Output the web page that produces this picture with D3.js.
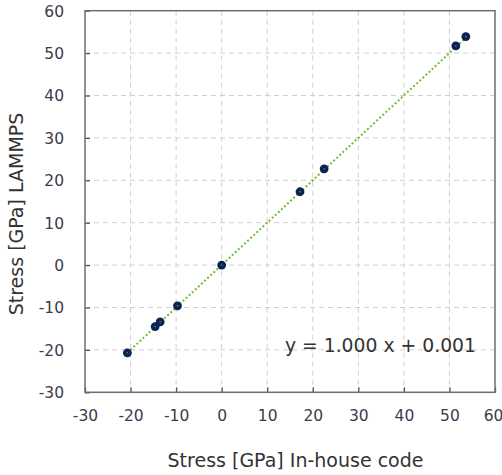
<!DOCTYPE html>
<html><head><meta charset="utf-8">
<script src="https://cdn.jsdelivr.net/npm/d3@7"></script>
<style>body{margin:0;background:#fff;} svg{display:block;}</style>
</head><body>
<svg id="c" width="502" height="475"></svg>
<script>
const inhouse = [-20.7, -14.6, -13.5, -9.7, 0.0, 17.2, 22.5, 51.4, 53.6];
const lammps  = [-20.7, -14.5, -13.4, -9.6, 0.0, 17.3, 22.7, 51.7, 53.9];
const xTicks = [-30, -20, -10, 0, 10, 20, 30, 40, 50, 60];
const yTicks = [-30, -20, -10, 0, 10, 20, 30, 40, 50, 60];
const slope = 1.000, intercept = 0.001;
const eqLabel = "y = 1.000 x + 0.001";
const xTitle = "Stress [GPa] In-house code";
const yTitle = "Stress [GPa] LAMMPS";

const svg = d3.select("#c");
const m = {l:85, t:10.7, r:495, b:392.3};
const x = d3.scaleLinear().domain([-30,60]).range([m.l, m.r]);
const y = d3.scaleLinear().domain([-30,60]).range([m.b, m.t]);
const font = "'DejaVu Sans', Verdana, sans-serif";
const fmt = d => String(d);

// grid
const g = svg.append("g");
g.selectAll(".gx").data(xTicks.slice(1,-1)).join("line")
  .attr("x1", d=>x(d)).attr("x2", d=>x(d)).attr("y1", m.t).attr("y2", m.b)
  .attr("stroke", "#cfcfcf").attr("stroke-width", 1).attr("stroke-dasharray", "5,4");
g.selectAll(".gy").data(yTicks.slice(1,-1)).join("line")
  .attr("y1", d=>y(d)).attr("y2", d=>y(d)).attr("x1", m.l).attr("x2", m.r)
  .attr("stroke", "#cfcfcf").attr("stroke-width", 1).attr("stroke-dasharray", "5,4");

// axes with inward ticks
const xa = svg.append("g").attr("transform", `translate(0,${m.b})`)
  .call(d3.axisBottom(x).tickValues(xTicks).tickSize(-5).tickPadding(23).tickFormat(fmt));
const ya = svg.append("g").attr("transform", `translate(${m.l},0)`)
  .call(d3.axisLeft(y).tickValues(yTicks).tickSize(-5).tickPadding(21).tickFormat(fmt));
[xa, ya].forEach(a => {
  a.select(".domain").remove();
  a.selectAll(".tick line").attr("stroke", "#555").attr("stroke-width", 1.3);
  a.selectAll("text").attr("font-family", font).attr("font-size", 15.5).attr("fill", "#3c3c4a");
});
xa.selectAll("text").attr("dy", "0.35em");
ya.selectAll("text").attr("dy", "0.35em");
xa.selectAll(".tick").filter(d => d === 60).select("text").attr("dx", -2);

// frame
svg.append("rect").attr("x", m.l).attr("y", m.t).attr("width", m.r-m.l).attr("height", m.b-m.t)
  .attr("fill", "none").attr("stroke", "#6e6e6e").attr("stroke-width", 1.5);

// trend line
const xMin = d3.min(inhouse), xMax = d3.max(inhouse);
svg.append("line")
  .attr("x1", x(xMin)).attr("y1", y(slope*xMin+intercept))
  .attr("x2", x(xMax)).attr("y2", y(slope*xMax+intercept))
  .attr("stroke", "#6cbf3a").attr("stroke-width", 2).attr("stroke-dasharray", "2,2.2");

// points
svg.selectAll(".pt").data(inhouse).join("circle")
  .attr("cx", d=>x(d)).attr("cy", (d,i)=>y(lammps[i])).attr("r", 4.4)
  .attr("fill", "#0b2255");
svg.selectAll(".ptc").data(inhouse).join("circle")
  .attr("cx", d=>x(d)).attr("cy", (d,i)=>y(lammps[i])).attr("r", 0.7)
  .attr("fill", "#7fbf40");

// equation
svg.append("text").attr("x", 476).attr("y", 352).attr("text-anchor", "end")
  .attr("font-family", font).attr("font-size", 18.8).attr("fill", "#333")
  .text(eqLabel);

// titles
svg.append("text").attr("x", 295.5).attr("y", 467).attr("text-anchor", "middle")
  .attr("font-family", font).attr("font-size", 19).attr("fill", "#333").text(xTitle);
svg.append("text").attr("transform", `translate(23,214) rotate(-90)`)
  .attr("text-anchor", "middle")
  .attr("font-family", font).attr("font-size", 19).attr("fill", "#333").text(yTitle);
</script>
</body></html>
